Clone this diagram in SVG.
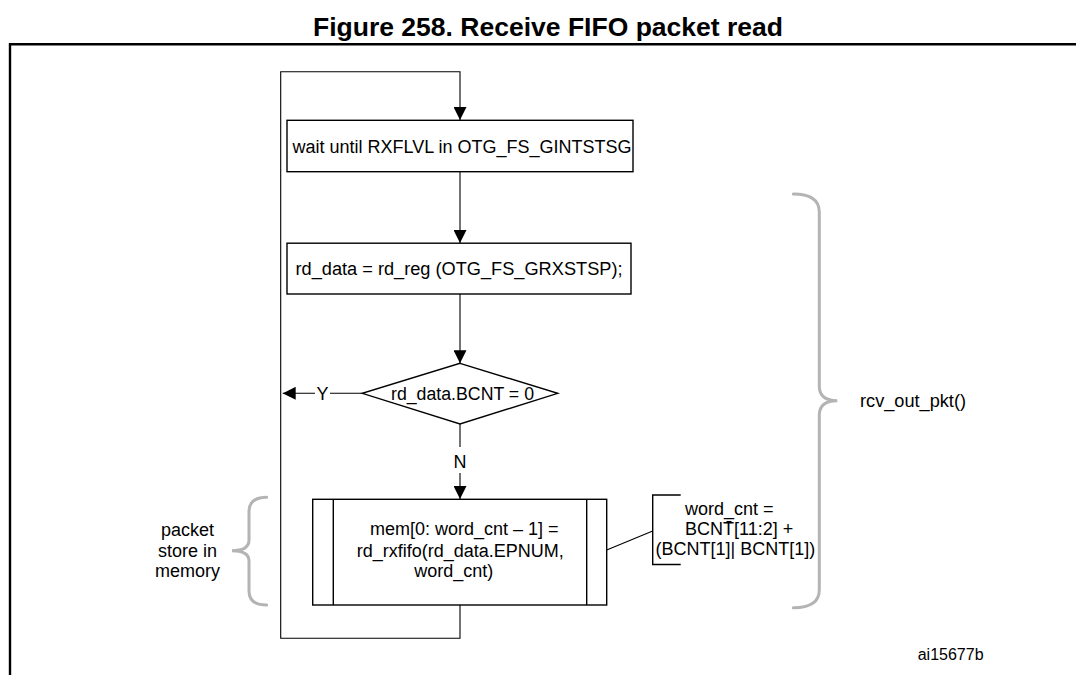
<svg xmlns="http://www.w3.org/2000/svg" width="1076" height="675" viewBox="0 0 1076 675">
<style>
text { font-family: "Liberation Sans", Arial, sans-serif; font-size: 18px; fill: #000; }
.title { font-weight: bold; font-size: 25px; }
.small { font-size: 16px; }
.box { fill: #fff; stroke: #000; stroke-width: 1.4; }
.line { fill: none; stroke: #000; stroke-width: 1.1; }
.brace { fill: none; stroke: #b4b4b4; stroke-width: 3; stroke-linecap: round; }
.frame { fill: none; stroke: #000; stroke-width: 2.4; }
</style>
<defs>
<marker id="arr" markerUnits="userSpaceOnUse" markerWidth="13" markerHeight="13" refX="13" refY="6.5" orient="auto" viewBox="0 0 13 13">
<path d="M0,0 L13,6.5 L0,13 z" fill="#000"/>
</marker>
</defs>
<rect width="1076" height="675" fill="#fff"/>
<text class="title" x="548" y="36" text-anchor="middle" textLength="470" lengthAdjust="spacingAndGlyphs">Figure 258. Receive FIFO packet read</text>
<path class="frame" d="M10,675 V44.3 H1076"/>

<g id="connectors">
<path class="line" d="M460,605 V638.3 H280.7 V71.7 H460 V120" marker-end="url(#arr)"/>
<path class="line" d="M460,171.7 V243" marker-end="url(#arr)"/>
<path class="line" d="M460,294 V363.3" marker-end="url(#arr)"/>
<path class="line" d="M362.3,393.3 H330"/>
<path class="line" d="M315,393.3 H282.7" marker-end="url(#arr)"/>
<text x="322.5" y="399.8" text-anchor="middle">Y</text>
<path class="line" d="M460,424 V447"/>
<text x="460" y="468" text-anchor="middle">N</text>
<path class="line" d="M460,473 V499" marker-end="url(#arr)"/>
<path class="line" d="M606.7,550 L652.7,531"/>
</g>

<g id="wait">
<rect class="box" x="287" y="120.3" width="346" height="51.4"/>
<text x="292.5" y="152.5" textLength="339" lengthAdjust="spacingAndGlyphs">wait until RXFLVL in OTG_FS_GINTSTSG</text>
</g>

<g id="rdreg">
<rect class="box" x="287" y="243.2" width="344" height="50.8"/>
<text x="295.5" y="274.5" textLength="327" lengthAdjust="spacingAndGlyphs">rd_data = rd_reg (OTG_FS_GRXSTSP);</text>
</g>

<g id="decision">
<polygon class="box" points="460,363.3 557.7,393.3 460,424 362.3,393.3"/>
<text x="462.5" y="399.8" text-anchor="middle" textLength="143" lengthAdjust="spacingAndGlyphs">rd_data.BCNT = 0</text>
</g>

<g id="rxfifo">
<rect class="box" x="312.7" y="499.3" width="294" height="105.7"/>
<path class="line" d="M333.3,499.3 V605 M586.7,499.3 V605" style="stroke-width:1.4"/>
<text x="370" y="535">mem[0: word_cnt – 1] =</text>
<text x="356.7" y="556.5">rd_rxfifo(rd_data.EPNUM,</text>
<text x="414.3" y="577">word_cnt)</text>
</g>

<g id="wordcnt">
<path class="line" d="M680.7,495 H652.7 V564.5 H680.7" style="stroke-width:1.4"/>
<text x="685" y="515">word_cnt =</text>
<text x="685" y="535">BCNT[11:2] +</text>
<path class="line" d="M726.5,521.5 H731.5"/>
<text x="655.5" y="555">(BCNT[1]| BCNT[1])</text>
</g>

<g id="packet-brace">
<path class="brace" d="M266.7,497.3 Q249,497.3 249,512 V540 Q249,550.7 232,550.7 Q249,550.7 249,561 V591 Q249,605 266.7,605"/>
<text x="187.5" y="536" text-anchor="middle">packet</text>
<text x="187.5" y="556.5" text-anchor="middle">store in</text>
<text x="187.5" y="577" text-anchor="middle">memory</text>
</g>

<g id="rcv-brace">
<path class="brace" d="M793.3,194 Q819.3,194 819.3,212 V386 Q819.3,400.7 837.3,400.7 Q819.3,400.7 819.3,415 V590 Q819.3,607.7 793.3,607.7"/>
<text x="860" y="406.5" textLength="106" lengthAdjust="spacingAndGlyphs">rcv_out_pkt()</text>
</g>

<text class="small" x="917.7" y="660">ai15677b</text>
</svg>
